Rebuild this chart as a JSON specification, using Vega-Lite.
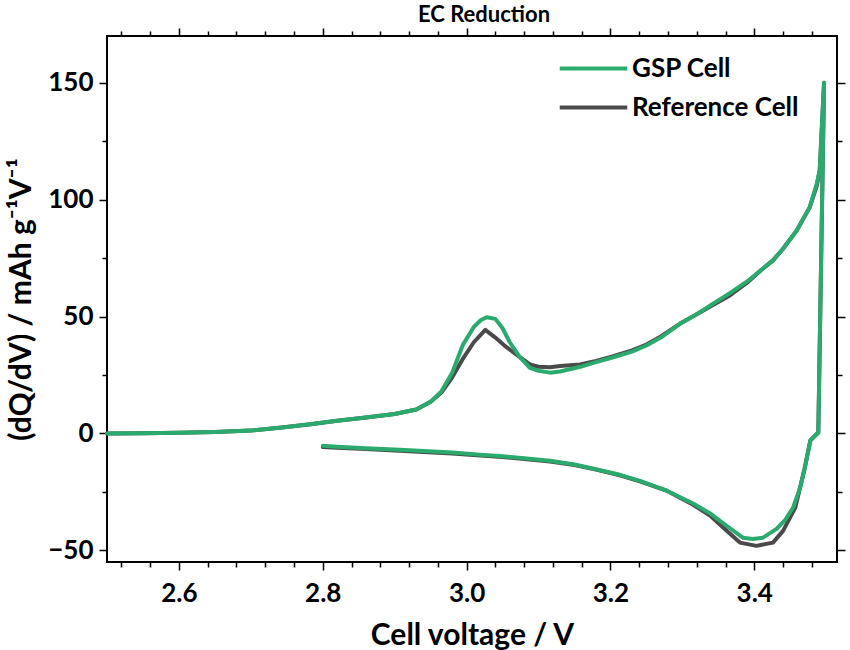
{
  "$schema": "https://vega.github.io/schema/vega-lite/v6.json",
  "width": 730,
  "height": 526,
  "autosize": {"type": "none"},
  "padding": {"left": 107, "top": 36, "right": 13, "bottom": 88},
  "background": "white",
  "config": {
    "font": "Lato",
    "view": {"stroke": "black", "strokeWidth": 2},
    "axis": {
      "labelFont": "Lato", "labelFontWeight": "bold", "labelFontSize": 26, "labelColor": "black",
      "titleFont": "Lato", "titleFontWeight": "bold", "titleFontSize": 30, "titleColor": "black",
      "tickColor": "black", "tickWidth": 1.5, "domain": false, "grid": false
    },
    "legend": {"labelFont": "Lato", "labelFontWeight": "bold", "labelFontSize": 26, "labelColor": "black", "labelLimit": 400}
  },
  "title": {"text": "EC Reduction", "fontSize": 22, "fontWeight": "bold", "font": "Lato", "color": "black", "anchor": "middle", "frame": "group", "dx": 12, "offset": 0},
  "datasets": {
    "curves": [
      {"i": 1, "cell": "GSP Cell", "v": 2.50, "q": 0.0},
      {"i": 2, "cell": "GSP Cell", "v": 2.55, "q": 0.1},
      {"i": 3, "cell": "GSP Cell", "v": 2.60, "q": 0.3},
      {"i": 4, "cell": "GSP Cell", "v": 2.65, "q": 0.6},
      {"i": 5, "cell": "GSP Cell", "v": 2.70, "q": 1.2},
      {"i": 6, "cell": "GSP Cell", "v": 2.74, "q": 2.4},
      {"i": 7, "cell": "GSP Cell", "v": 2.78, "q": 3.8},
      {"i": 8, "cell": "GSP Cell", "v": 2.82, "q": 5.4},
      {"i": 9, "cell": "GSP Cell", "v": 2.86, "q": 6.8},
      {"i": 10, "cell": "GSP Cell", "v": 2.90, "q": 8.3},
      {"i": 11, "cell": "GSP Cell", "v": 2.93, "q": 10.2},
      {"i": 12, "cell": "GSP Cell", "v": 2.95, "q": 13.5},
      {"i": 13, "cell": "GSP Cell", "v": 2.965, "q": 18.0},
      {"i": 14, "cell": "GSP Cell", "v": 2.98, "q": 26.0},
      {"i": 15, "cell": "GSP Cell", "v": 2.995, "q": 38.0},
      {"i": 16, "cell": "GSP Cell", "v": 3.01, "q": 45.5},
      {"i": 17, "cell": "GSP Cell", "v": 3.02, "q": 48.5},
      {"i": 18, "cell": "GSP Cell", "v": 3.028, "q": 49.7},
      {"i": 19, "cell": "GSP Cell", "v": 3.04, "q": 49.0},
      {"i": 20, "cell": "GSP Cell", "v": 3.05, "q": 45.0},
      {"i": 21, "cell": "GSP Cell", "v": 3.06, "q": 39.0},
      {"i": 22, "cell": "GSP Cell", "v": 3.074, "q": 32.6},
      {"i": 23, "cell": "GSP Cell", "v": 3.088, "q": 28.0},
      {"i": 24, "cell": "GSP Cell", "v": 3.10, "q": 26.8},
      {"i": 25, "cell": "GSP Cell", "v": 3.116, "q": 26.0},
      {"i": 26, "cell": "GSP Cell", "v": 3.13, "q": 26.5},
      {"i": 27, "cell": "GSP Cell", "v": 3.158, "q": 28.5},
      {"i": 28, "cell": "GSP Cell", "v": 3.18, "q": 30.5},
      {"i": 29, "cell": "GSP Cell", "v": 3.204, "q": 32.6},
      {"i": 30, "cell": "GSP Cell", "v": 3.23, "q": 35.0},
      {"i": 31, "cell": "GSP Cell", "v": 3.25, "q": 37.6},
      {"i": 32, "cell": "GSP Cell", "v": 3.27, "q": 41.0},
      {"i": 33, "cell": "GSP Cell", "v": 3.297, "q": 47.0},
      {"i": 34, "cell": "GSP Cell", "v": 3.32, "q": 51.0},
      {"i": 35, "cell": "GSP Cell", "v": 3.34, "q": 55.0},
      {"i": 36, "cell": "GSP Cell", "v": 3.366, "q": 60.0},
      {"i": 37, "cell": "GSP Cell", "v": 3.39, "q": 65.0},
      {"i": 38, "cell": "GSP Cell", "v": 3.41, "q": 70.0},
      {"i": 39, "cell": "GSP Cell", "v": 3.426, "q": 74.0},
      {"i": 40, "cell": "GSP Cell", "v": 3.44, "q": 79.0},
      {"i": 41, "cell": "GSP Cell", "v": 3.459, "q": 86.8},
      {"i": 42, "cell": "GSP Cell", "v": 3.477, "q": 96.7},
      {"i": 43, "cell": "GSP Cell", "v": 3.487, "q": 107.0},
      {"i": 44, "cell": "GSP Cell", "v": 3.491, "q": 112.6},
      {"i": 45, "cell": "GSP Cell", "v": 3.497, "q": 150.0},
      {"i": 46, "cell": "GSP Cell", "v": 3.489, "q": 0.4},
      {"i": 47, "cell": "GSP Cell", "v": 3.478, "q": -3.0},
      {"i": 48, "cell": "GSP Cell", "v": 3.470, "q": -15.0},
      {"i": 49, "cell": "GSP Cell", "v": 3.464, "q": -23.0},
      {"i": 50, "cell": "GSP Cell", "v": 3.454, "q": -31.7},
      {"i": 51, "cell": "GSP Cell", "v": 3.443, "q": -37.0},
      {"i": 52, "cell": "GSP Cell", "v": 3.431, "q": -40.8},
      {"i": 53, "cell": "GSP Cell", "v": 3.412, "q": -44.6},
      {"i": 54, "cell": "GSP Cell", "v": 3.398, "q": -45.2},
      {"i": 55, "cell": "GSP Cell", "v": 3.384, "q": -44.6},
      {"i": 56, "cell": "GSP Cell", "v": 3.362, "q": -39.6},
      {"i": 57, "cell": "GSP Cell", "v": 3.34, "q": -34.5},
      {"i": 58, "cell": "GSP Cell", "v": 3.315, "q": -30.0},
      {"i": 59, "cell": "GSP Cell", "v": 3.279, "q": -24.6},
      {"i": 60, "cell": "GSP Cell", "v": 3.241, "q": -20.3},
      {"i": 61, "cell": "GSP Cell", "v": 3.213, "q": -17.7},
      {"i": 62, "cell": "GSP Cell", "v": 3.18, "q": -15.3},
      {"i": 63, "cell": "GSP Cell", "v": 3.15, "q": -13.3},
      {"i": 64, "cell": "GSP Cell", "v": 3.116, "q": -11.7},
      {"i": 65, "cell": "GSP Cell", "v": 3.08, "q": -10.6},
      {"i": 66, "cell": "GSP Cell", "v": 3.05, "q": -9.8},
      {"i": 67, "cell": "GSP Cell", "v": 3.019, "q": -9.1},
      {"i": 68, "cell": "GSP Cell", "v": 2.98, "q": -8.2},
      {"i": 69, "cell": "GSP Cell", "v": 2.94, "q": -7.5},
      {"i": 70, "cell": "GSP Cell", "v": 2.907, "q": -7.0},
      {"i": 71, "cell": "GSP Cell", "v": 2.86, "q": -6.3},
      {"i": 72, "cell": "GSP Cell", "v": 2.82, "q": -5.7},
      {"i": 73, "cell": "GSP Cell", "v": 2.80, "q": -5.3},

      {"i": 1, "cell": "Reference Cell", "v": 2.50, "q": 0.0},
      {"i": 2, "cell": "Reference Cell", "v": 2.55, "q": 0.1},
      {"i": 3, "cell": "Reference Cell", "v": 2.60, "q": 0.3},
      {"i": 4, "cell": "Reference Cell", "v": 2.65, "q": 0.6},
      {"i": 5, "cell": "Reference Cell", "v": 2.70, "q": 1.2},
      {"i": 6, "cell": "Reference Cell", "v": 2.74, "q": 2.4},
      {"i": 7, "cell": "Reference Cell", "v": 2.78, "q": 3.8},
      {"i": 8, "cell": "Reference Cell", "v": 2.82, "q": 5.4},
      {"i": 9, "cell": "Reference Cell", "v": 2.86, "q": 6.8},
      {"i": 10, "cell": "Reference Cell", "v": 2.90, "q": 8.3},
      {"i": 11, "cell": "Reference Cell", "v": 2.93, "q": 10.2},
      {"i": 12, "cell": "Reference Cell", "v": 2.95, "q": 13.5},
      {"i": 13, "cell": "Reference Cell", "v": 2.965, "q": 17.5},
      {"i": 14, "cell": "Reference Cell", "v": 2.98, "q": 24.0},
      {"i": 15, "cell": "Reference Cell", "v": 2.995, "q": 32.0},
      {"i": 16, "cell": "Reference Cell", "v": 3.01, "q": 39.0},
      {"i": 17, "cell": "Reference Cell", "v": 3.026, "q": 44.3},
      {"i": 18, "cell": "Reference Cell", "v": 3.04, "q": 41.0},
      {"i": 19, "cell": "Reference Cell", "v": 3.055, "q": 37.0},
      {"i": 20, "cell": "Reference Cell", "v": 3.074, "q": 32.6},
      {"i": 21, "cell": "Reference Cell", "v": 3.088, "q": 29.5},
      {"i": 22, "cell": "Reference Cell", "v": 3.10, "q": 28.5},
      {"i": 23, "cell": "Reference Cell", "v": 3.116, "q": 28.3},
      {"i": 24, "cell": "Reference Cell", "v": 3.13, "q": 28.8},
      {"i": 25, "cell": "Reference Cell", "v": 3.158, "q": 29.5},
      {"i": 26, "cell": "Reference Cell", "v": 3.18, "q": 31.0},
      {"i": 27, "cell": "Reference Cell", "v": 3.204, "q": 33.0},
      {"i": 28, "cell": "Reference Cell", "v": 3.23, "q": 35.5},
      {"i": 29, "cell": "Reference Cell", "v": 3.25, "q": 38.0},
      {"i": 30, "cell": "Reference Cell", "v": 3.27, "q": 41.5},
      {"i": 31, "cell": "Reference Cell", "v": 3.297, "q": 47.0},
      {"i": 32, "cell": "Reference Cell", "v": 3.32, "q": 51.0},
      {"i": 33, "cell": "Reference Cell", "v": 3.34, "q": 54.5},
      {"i": 34, "cell": "Reference Cell", "v": 3.366, "q": 59.0},
      {"i": 35, "cell": "Reference Cell", "v": 3.39, "q": 64.5},
      {"i": 36, "cell": "Reference Cell", "v": 3.41, "q": 70.0},
      {"i": 37, "cell": "Reference Cell", "v": 3.426, "q": 74.0},
      {"i": 38, "cell": "Reference Cell", "v": 3.44, "q": 79.0},
      {"i": 39, "cell": "Reference Cell", "v": 3.459, "q": 86.8},
      {"i": 40, "cell": "Reference Cell", "v": 3.477, "q": 96.7},
      {"i": 41, "cell": "Reference Cell", "v": 3.487, "q": 106.0},
      {"i": 42, "cell": "Reference Cell", "v": 3.491, "q": 112.6},
      {"i": 43, "cell": "Reference Cell", "v": 3.497, "q": 150.0},
      {"i": 44, "cell": "Reference Cell", "v": 3.489, "q": 0.4},
      {"i": 45, "cell": "Reference Cell", "v": 3.478, "q": -3.0},
      {"i": 46, "cell": "Reference Cell", "v": 3.470, "q": -15.0},
      {"i": 47, "cell": "Reference Cell", "v": 3.457, "q": -31.7},
      {"i": 48, "cell": "Reference Cell", "v": 3.44, "q": -41.7},
      {"i": 49, "cell": "Reference Cell", "v": 3.426, "q": -46.7},
      {"i": 50, "cell": "Reference Cell", "v": 3.403, "q": -48.1},
      {"i": 51, "cell": "Reference Cell", "v": 3.38, "q": -46.7},
      {"i": 52, "cell": "Reference Cell", "v": 3.362, "q": -41.7},
      {"i": 53, "cell": "Reference Cell", "v": 3.34, "q": -35.5},
      {"i": 54, "cell": "Reference Cell", "v": 3.315, "q": -30.5},
      {"i": 55, "cell": "Reference Cell", "v": 3.279, "q": -24.6},
      {"i": 56, "cell": "Reference Cell", "v": 3.241, "q": -20.5},
      {"i": 57, "cell": "Reference Cell", "v": 3.213, "q": -17.9},
      {"i": 58, "cell": "Reference Cell", "v": 3.18, "q": -15.5},
      {"i": 59, "cell": "Reference Cell", "v": 3.15, "q": -13.5},
      {"i": 60, "cell": "Reference Cell", "v": 3.116, "q": -12.0},
      {"i": 61, "cell": "Reference Cell", "v": 3.08, "q": -10.9},
      {"i": 62, "cell": "Reference Cell", "v": 3.05, "q": -10.1},
      {"i": 63, "cell": "Reference Cell", "v": 3.019, "q": -9.4},
      {"i": 64, "cell": "Reference Cell", "v": 2.98, "q": -8.6},
      {"i": 65, "cell": "Reference Cell", "v": 2.94, "q": -7.9},
      {"i": 66, "cell": "Reference Cell", "v": 2.907, "q": -7.4},
      {"i": 67, "cell": "Reference Cell", "v": 2.86, "q": -6.7},
      {"i": 68, "cell": "Reference Cell", "v": 2.82, "q": -6.1},
      {"i": 69, "cell": "Reference Cell", "v": 2.80, "q": -5.8}
    ]
  },
  "resolve": {"axis": {"x": "independent", "y": "independent"}},
  "layer": [
    {
      "data": {"name": "curves"},
      "transform": [{"filter": "datum.cell === 'Reference Cell'"}],
      "mark": {"type": "line", "strokeWidth": 4, "strokeJoin": "round", "strokeCap": "round"},
      "encoding": {
        "x": {"field": "v", "type": "quantitative",
              "scale": {"domain": [2.5, 3.515], "nice": false, "zero": false},
              "axis": {"orient": "bottom", "values": [2.6, 2.8, 3.0, 3.2, 3.4], "format": ".1f", "tickSize": 8, "labelPadding": 10,
                       "title": "Cell voltage / V", "titlePadding": 14}},
        "y": {"field": "q", "type": "quantitative",
              "scale": {"domain": [-55, 170], "nice": false, "zero": false},
              "axis": {"orient": "left", "values": [-50, 0, 50, 100, 150], "tickSize": 8, "labelPadding": 6,
                       "title": "(dQ/dV) / mAh g⁻¹V⁻¹", "titlePadding": 11}},
        "order": {"field": "i", "type": "quantitative"},
        "color": {"field": "cell", "type": "nominal",
                  "scale": {"domain": ["GSP Cell", "Reference Cell"], "range": ["#2aaa6c", "#4a4a4a"]},
                  "legend": {"title": null, "orient": "none", "legendX": 471, "legendY": 17, "symbolType": "M-2.5,0L2.5,0",
                             "symbolSize": 729, "symbolStrokeWidth": 4, "labelOffset": 23, "rowPadding": 10}}
      }
    },
    {
      "data": {"name": "curves"},
      "transform": [{"filter": "datum.cell === 'GSP Cell'"}],
      "mark": {"type": "line", "strokeWidth": 4, "strokeJoin": "round", "strokeCap": "round"},
      "encoding": {
        "x": {"field": "v", "type": "quantitative", "axis": null},
        "y": {"field": "q", "type": "quantitative", "axis": null},
        "order": {"field": "i", "type": "quantitative"},
        "color": {"field": "cell", "type": "nominal"}
      }
    },
    {
      "mark": {"type": "rule", "strokeDash": [6, 5], "strokeWidth": 2, "color": "black"},
      "encoding": {
        "x": {"datum": 3.025, "type": "quantitative",
              "axis": {"orient": "bottom", "values": [2.52, 2.56, 2.64, 2.68, 2.72, 2.76, 2.84, 2.88, 2.92, 2.96, 3.04, 3.08, 3.12, 3.16, 3.24, 3.28, 3.32, 3.36, 3.44, 3.48],
                       "tickSize": 5, "labels": false, "title": null}}
      }
    },
    {
      "mark": {"type": "point", "opacity": 0},
      "encoding": {
        "x": {"datum": 3.025, "type": "quantitative",
              "axis": {"orient": "top", "values": [2.6, 2.8, 3.0, 3.2, 3.4], "tickSize": 8, "labels": false, "title": null}},
        "y": {"datum": 0, "type": "quantitative",
              "axis": {"orient": "right", "values": [-50, 0, 50, 100, 150], "tickSize": 8, "labels": false, "title": null}}
      }
    },
    {
      "mark": {"type": "point", "opacity": 0},
      "encoding": {
        "x": {"datum": 3.025, "type": "quantitative",
              "axis": {"orient": "top", "values": [2.52, 2.56, 2.64, 2.68, 2.72, 2.76, 2.84, 2.88, 2.92, 2.96, 3.04, 3.08, 3.12, 3.16, 3.24, 3.28, 3.32, 3.36, 3.44, 3.48],
                       "tickSize": 5, "labels": false, "title": null}},
        "y": {"datum": 0, "type": "quantitative",
              "axis": {"orient": "right", "values": [-25, 25, 75, 125], "tickSize": 5, "labels": false, "title": null}}
      }
    },
    {
      "mark": {"type": "point", "opacity": 0},
      "encoding": {
        "x": {"datum": 3.025, "type": "quantitative", "axis": null},
        "y": {"datum": 0, "type": "quantitative",
              "axis": {"orient": "left", "values": [-25, 25, 75, 125], "tickSize": 5, "labels": false, "title": null}}
      }
    }
  ]
}
